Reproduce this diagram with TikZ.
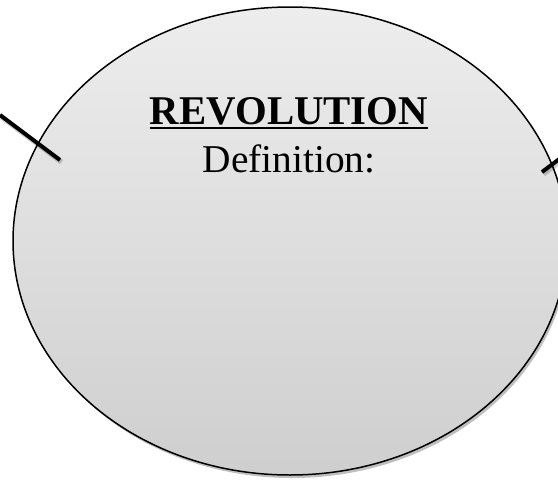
\documentclass[tikz,border=0pt]{standalone}
\usepackage{fontspec}
\setmainfont{Liberation Serif}
\usetikzlibrary{shadings,shadows,shapes.geometric}
\tikzset{
  bubble/.style={ellipse, draw=black, line width=1.5pt,
    top color=gray!14, bottom color=gray!38,
    minimum width=554pt, minimum height=468pt, inner sep=0pt,
    drop shadow={shadow xshift=2pt, shadow yshift=-3pt, opacity=0.25, fill=black}},
  spoke/.style={line width=4pt, black,
    preaction={draw=black, opacity=0.2, line width=5pt, transform canvas={xshift=1.5pt, yshift=-2pt}}},
  titletext/.style={font=\fontsize{40.8}{44}\selectfont\bfseries, inner sep=0pt, anchor=base},
  deftext/.style={font=\fontsize{39.4}{44}\selectfont, inner sep=0pt, anchor=base}
}
\begin{document}
\begin{tikzpicture}[x=1pt,y=-1pt]
  \useasboundingbox (0,0) rectangle (558,480);
  \node[bubble] (circ) at (290,241) {};
  \coordinate (l0) at (0,115);
  \coordinate (l1) at (60,160);
  \coordinate (r0) at (542,172);
  \coordinate (r1) at (570,151);
  \draw[spoke] (l0) -- (l1);
  \draw[spoke] (r0) -- (r1);
  \node[titletext] (rev) at (289,124) {REVOLUTION};
  \draw[line width=1.2pt] ([yshift=-4pt]rev.base west) -- ([yshift=-4pt]rev.base east);
  \node[deftext] (def) at (289,172) {Definition:};
\end{tikzpicture}
\end{document}
